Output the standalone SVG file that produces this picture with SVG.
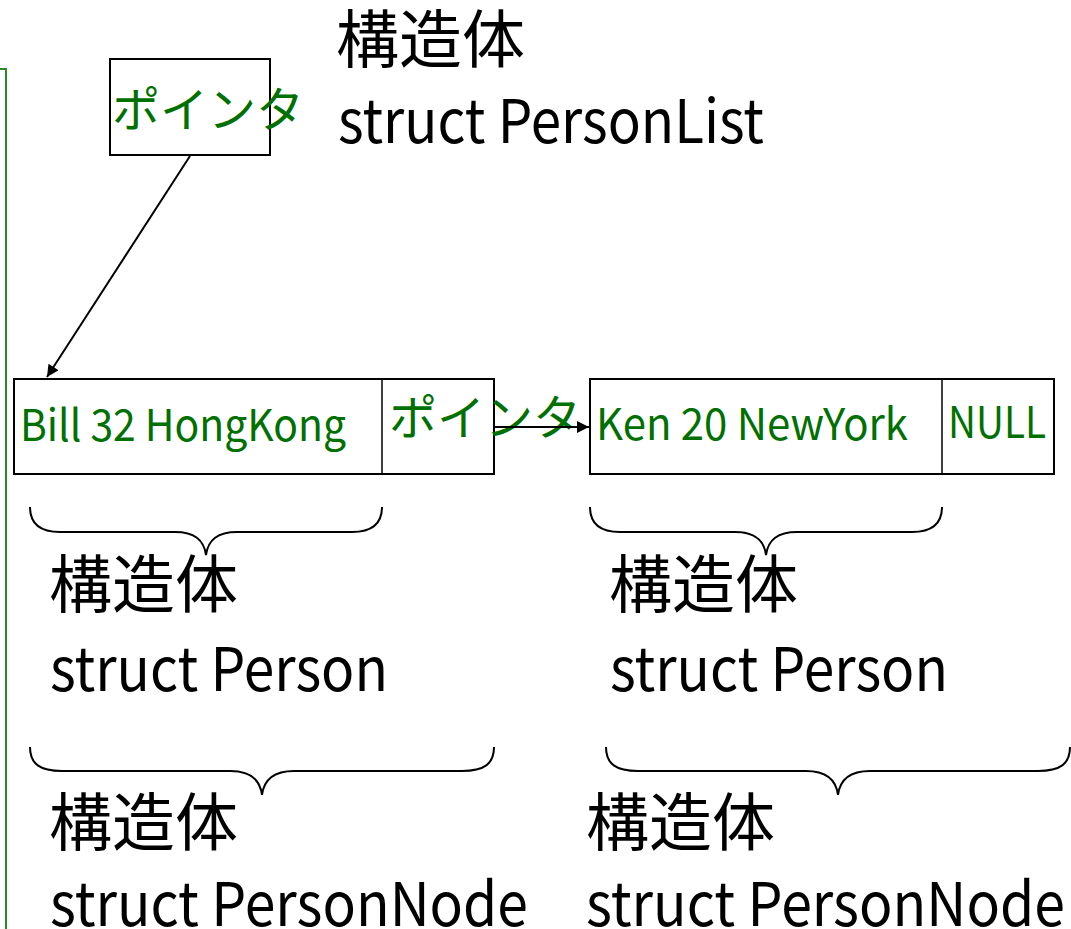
<svg xmlns="http://www.w3.org/2000/svg" width="1071" height="929" viewBox="0 0 1071 929">
<style>
.box{fill:#ffffff;stroke:#000000;stroke-width:2}
.div{stroke:#000000;stroke-width:1.5}
.g{font-family:"Noto Sans CJK JP","Noto Sans",sans-serif;fill:#007000}
.k{font-family:"Noto Sans CJK JP","Noto Sans",sans-serif;fill:#000000}
.brace{fill:none;stroke:#000000;stroke-width:2}
.conn{fill:none;stroke:#000000;stroke-width:2}
</style>
<defs>
<marker id="ah" viewBox="0 0 10 10" refX="10" refY="5" markerWidth="7" markerHeight="6" orient="auto" markerUnits="strokeWidth">
<path d="M0,0 L10,5 L0,10 z" fill="#000000"/>
</marker>
</defs>
<rect width="1071" height="929" fill="#ffffff"/>
<g id="frame-edge">
<path d="M0,69 L6,69 L6,929" fill="none" stroke="#2a8a2a" stroke-width="2"/>
</g>
<g id="list-box">
<rect class="box" x="110" y="59" width="160" height="96"/>
<text class="g" x="112" y="127" font-size="48">ポインタ</text>
</g>
<g id="list-label">
<text class="k" x="336" y="62" font-size="63">構造体</text>
<text class="k" x="338" y="143" font-size="60" textLength="426" lengthAdjust="spacingAndGlyphs">struct PersonList</text>
</g>
<g id="node1">
<rect class="box" x="14" y="379" width="480" height="95"/>
<line class="div" x1="382" y1="379" x2="382" y2="474"/>
<text class="g" x="20" y="441" font-size="44" textLength="326" lengthAdjust="spacingAndGlyphs">Bill 32 HongKong</text>
<text class="g" x="389" y="435" font-size="48">ポインタ</text>
</g>
<g id="node2">
<rect class="box" x="590" y="379" width="464" height="95"/>
<line class="div" x1="942" y1="379" x2="942" y2="474"/>
<text class="g" x="596" y="440" font-size="44" textLength="312" lengthAdjust="spacingAndGlyphs">Ken 20 NewYork</text>
<text class="g" x="948" y="438" font-size="44" textLength="98" lengthAdjust="spacingAndGlyphs">NULL</text>
</g>
<g id="connectors">
<line class="conn" x1="190" y1="156" x2="47" y2="377" marker-end="url(#ah)"/>
<line class="conn" x1="494" y1="427" x2="589" y2="427" marker-end="url(#ah)"/>
</g>
<g id="brace-person1">
<path class="brace" d="M30,507 C30,524 40,532 60,532 L175,532 C195,532 204,540 206,555 C208,540 217,532 237,532 L352,532 C372,532 382,524 382,507"/>
<text class="k" x="49" y="607" font-size="63">構造体</text>
<text class="k" x="50" y="691" font-size="60" textLength="338" lengthAdjust="spacingAndGlyphs">struct Person</text>
</g>
<g id="brace-person2">
<path class="brace" d="M590,507 C590,524 600,532 620,532 L735,532 C755,532 764,540 766,555 C768,540 777,532 797,532 L912,532 C932,532 942,524 942,507"/>
<text class="k" x="609" y="607" font-size="63">構造体</text>
<text class="k" x="610" y="691" font-size="60" textLength="338" lengthAdjust="spacingAndGlyphs">struct Person</text>
</g>
<g id="brace-node1">
<path class="brace" d="M30,747 C30,764 40,771 62,771 L230,771 C250,771 260,779 262,795 C264,779 274,771 294,771 L462,771 C484,771 494,764 494,747"/>
<text class="k" x="49" y="845" font-size="63">構造体</text>
<text class="k" x="50" y="926" font-size="60" textLength="478" lengthAdjust="spacingAndGlyphs">struct PersonNode</text>
</g>
<g id="brace-node2">
<path class="brace" d="M606,747 C606,764 616,771 638,771 L806,771 C826,771 836,779 838,795 C840,779 850,771 870,771 L1038,771 C1060,771 1070,764 1070,747"/>
<text class="k" x="586" y="845" font-size="63">構造体</text>
<text class="k" x="586" y="926" font-size="60" textLength="479" lengthAdjust="spacingAndGlyphs">struct PersonNode</text>
</g>
</svg>
